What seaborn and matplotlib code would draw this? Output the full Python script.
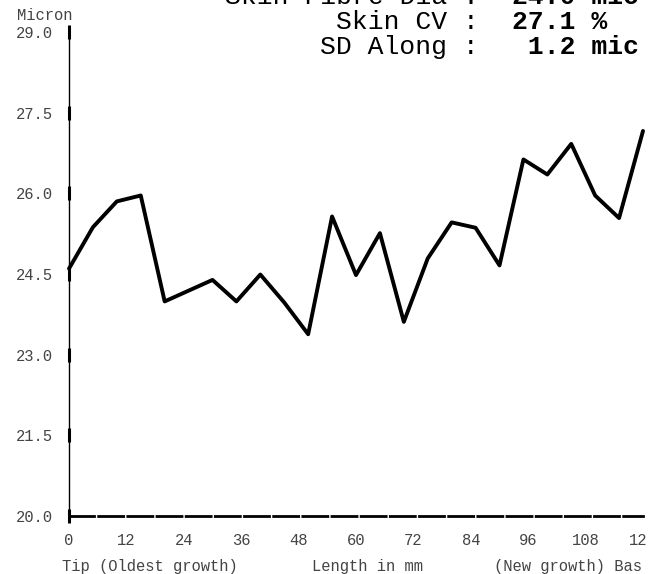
import matplotlib
matplotlib.use("Agg")
import matplotlib.pyplot as plt
import seaborn as sns
import numpy as np
import pandas as pd
from matplotlib.transforms import Bbox, TransformedBbox

# ---- data ----
length_mm = [0, 5, 10, 15, 20, 25, 30, 35, 40, 45, 50, 55, 60, 65, 70, 75,
             80, 85, 90, 95, 100, 105, 110, 115, 120]
micron = [24.60, 25.37, 25.85, 25.96, 23.99, 24.19, 24.39, 23.99, 24.49, 23.97,
          23.38, 25.57, 24.48, 25.26, 23.61, 24.79, 25.46, 25.36, 24.66, 26.63,
          26.35, 26.92, 25.96, 25.54, 27.16]
x_ticks = [0, 12, 24, 36, 48, 60, 72, 84, 96, 108, 120]
y_ticks = [20.0, 21.5, 23.0, 24.5, 26.0, 27.5, 29.0]
stat_labels = ["Skin Fibre Dia :", "Skin CV :", "SD Along :"]
stat_values = ["24.0 mic", "27.1 %", " 1.2 mic"]

df = pd.DataFrame({"Length": length_mm, "Micron": micron})

sns.set_theme(style="white")
plt.rcParams["font.family"] = ["Liberation Mono", "DejaVu Sans"]

W, H = 662, 574
SMALL = 11.2
tcol = "#444444"
fig = plt.figure(figsize=(W / 100, H / 100), dpi=100)
ax = fig.add_axes([69 / W, (H - 516) / H, (643 - 69) / W, (516 - 32) / H])

sns.lineplot(data=df, x="Length", y="Micron", ax=ax, color="black",
             linewidth=2.8, clip_on=False)

ax.set_xlim(0, 120)
ax.set_ylim(20, 29)
ax.set_xticks(x_ticks)
ax.set_xticklabels([str(t) for t in x_ticks])
ax.set_yticks(y_ticks)
ax.set_yticklabels([f"{t:.1f}" for t in y_ticks])
ax.set_xlabel("")
ax.set_ylabel("")

for s in ["top", "right"]:
    ax.spines[s].set_visible(False)
ax.spines["left"].set_color("black")
ax.spines["left"].set_linewidth(1.0)
ax.spines["bottom"].set_color("black")
ax.spines["bottom"].set_linewidth(2.0)
ax.spines["bottom"].set_linestyle((0, (9, 1.5)))

ax.tick_params(axis="y", direction="out", length=3.5, width=1, color="#333333",
               labelsize=SMALL, labelcolor=tcol, pad=8)
ax.tick_params(axis="x", direction="out", length=6, width=1, color="#333333",
               labelsize=SMALL, labelcolor=tcol, pad=6.5)

# thick marks on the y axis at each tick
ax.plot([0] * len(y_ticks), y_ticks, linestyle="none", marker="|",
        markersize=10, markeredgewidth=2.2, color="black", clip_on=False)

clip_ticks = TransformedBbox(Bbox([[0, 0], [647 / W, 1]]), fig.transFigure)
for lab in ax.get_xticklabels():
    lab.set_clip_box(clip_ticks)
    lab.set_clip_on(True)

# axis captions
fig.text(17 / W, 1 - 16 / H, "Micron", fontsize=SMALL, color=tcol,
         ha="left", va="center")
fig.text(62 / W, 1 - 566 / H, "Tip (Oldest growth)", fontsize=SMALL, color=tcol,
         ha="left", va="center")
fig.text(367 / W, 1 - 566 / H, "Length in mm", fontsize=SMALL, color=tcol,
         ha="center", va="center")
clip_base = TransformedBbox(Bbox([[0, 0], [643 / W, 1]]), fig.transFigure)
t = fig.text(494 / W, 1 - 566 / H, "(New growth) Base", fontsize=SMALL, color=tcol,
             ha="left", va="center")
t.set_clip_box(clip_base)
t.set_clip_on(True)

# header statistics
baselines = [4, 29, 54]
for lab, val, b in zip(stat_labels, stat_values, baselines):
    fig.text(479 / W, 1 - b / H, lab, fontsize=19, color="black",
             ha="right", va="baseline")
    fig.text(512 / W, 1 - b / H, val, fontsize=19, color="black",
             fontweight="bold", ha="left", va="baseline")

fig.savefig("out.png", dpi=100)
